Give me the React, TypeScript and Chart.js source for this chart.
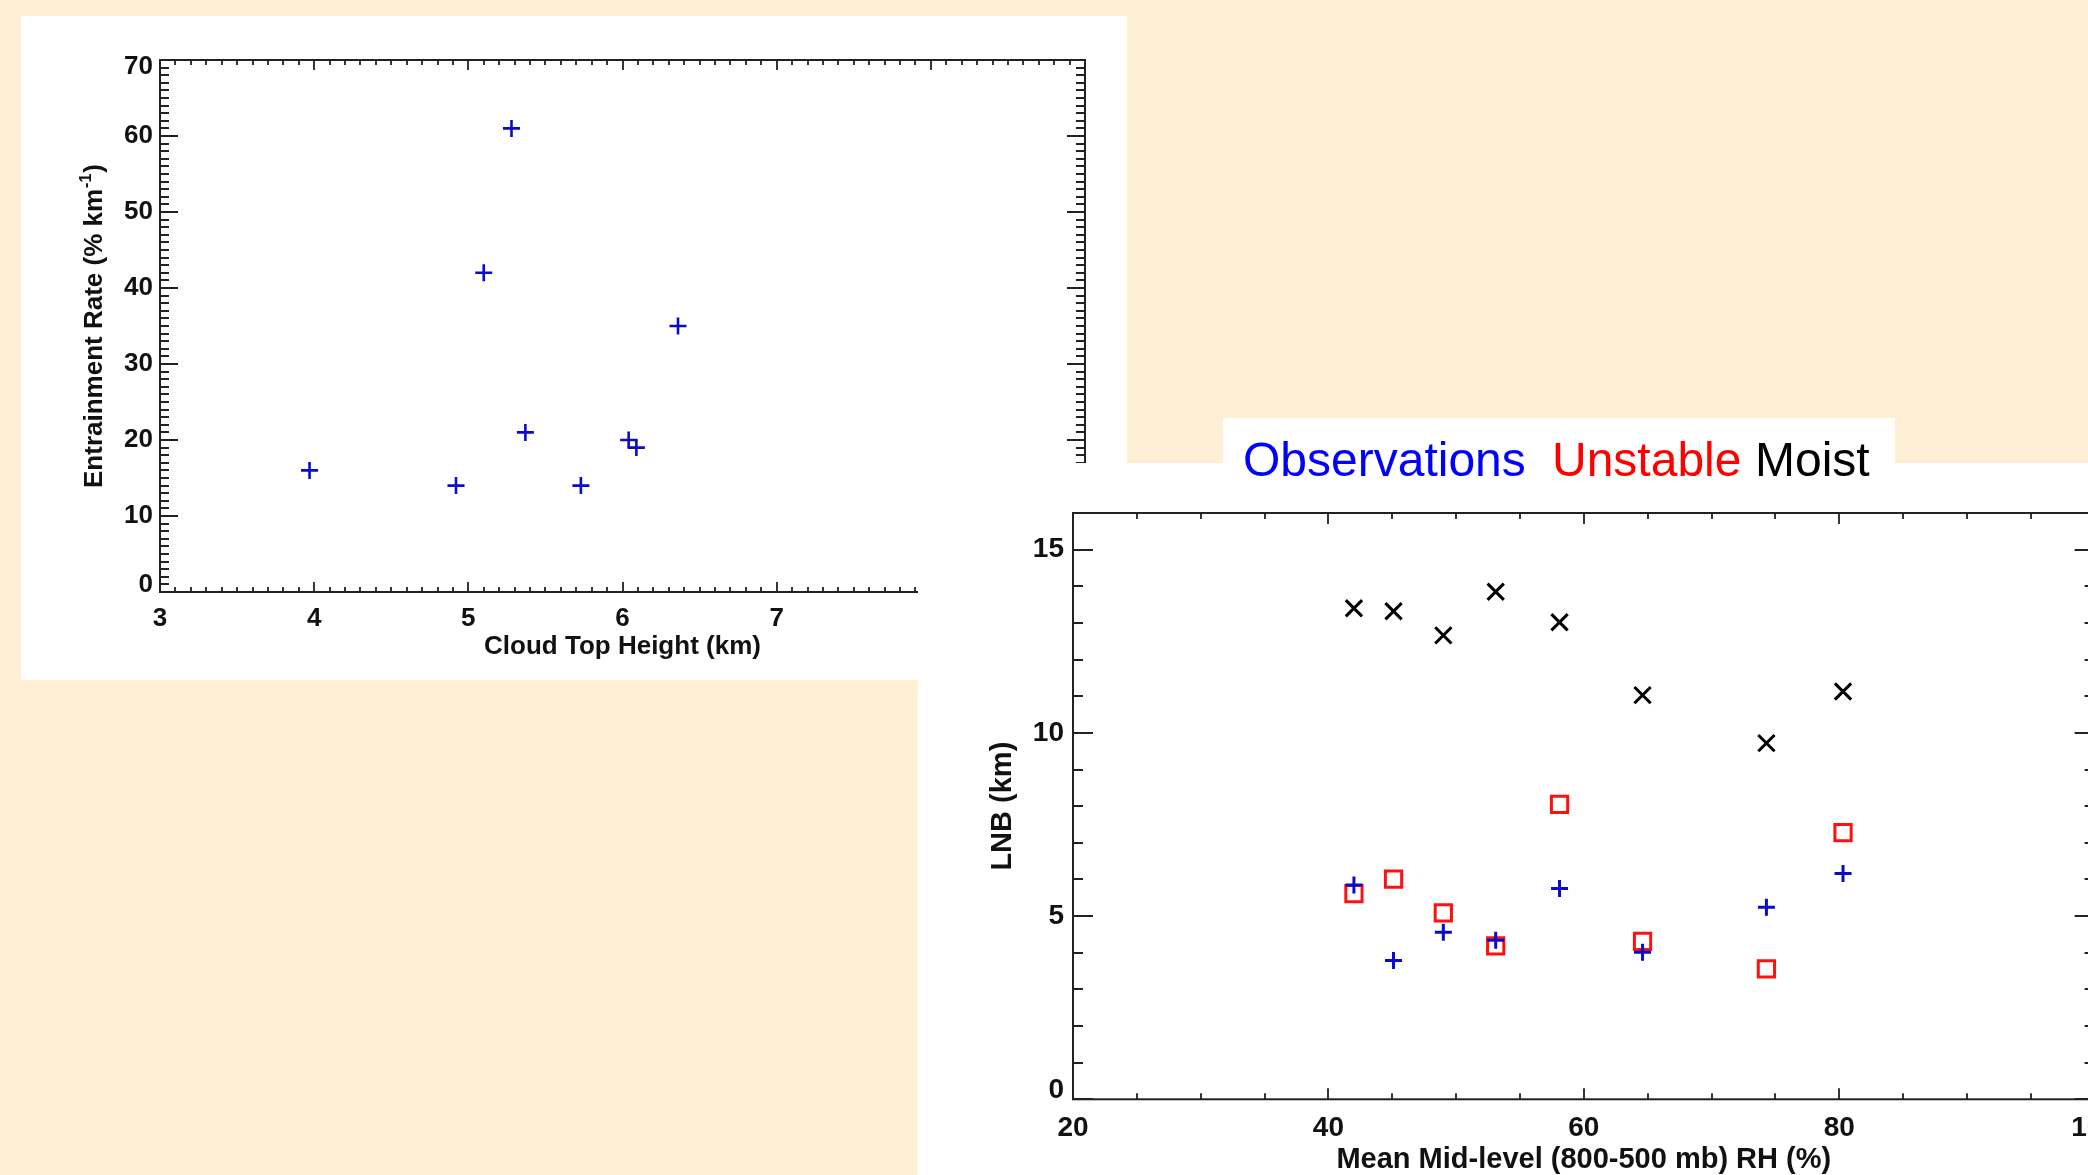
import React, { useEffect, useRef } from "react";
import { Chart, registerables } from "chart.js";

Chart.register(...registerables);

// ---- Entrainment rate vs. cloud top height ----
const cloudTopHeight = [3.97, 4.92, 5.1, 5.28, 5.37, 5.73, 6.04, 6.09, 6.36];
const entrainmentRate = [16, 14, 42, 61, 21, 14, 20, 19, 35];
const cloudTopTicks = [3, 4, 5, 6, 7, 8, 9];
const entrainmentTicks = [0, 10, 20, 30, 40, 50, 60, 70];

// ---- Level of neutral buoyancy vs. mid-level RH ----
const midLevelRH = [42.0, 45.1, 49.0, 53.1, 58.1, 64.6, 74.3, 80.3];
const lnbObservations = [5.85, 3.79, 4.56, 4.34, 5.75, 4.01, 5.24, 6.16];
const lnbUnstable = [5.61, 6.01, 5.09, 4.19, 8.05, 4.31, 3.56, 7.28];
const lnbMoist = [13.4, 13.32, 12.66, 13.85, 13.02, 11.03, 9.72, 11.13];
const rhTicks = [20, 40, 60, 80, 100];
const lnbTicks = [0, 5, 10, 15];

const legendWords = [
  { text: "Observations", color: "#0000FF", left: 1243 },
  { text: "Unstable", color: "#FF0000", left: 1552 },
  { text: "Moist", color: "#000000", left: 1755 },
];

const CREAM = "#FFEFD4";
const BLUE = "#0A0ACD";
const RED = "#FF1010";
const INK = "#222222";
const FAMILY = '"Liberation Sans", Arial, Helvetica, sans-serif';

type FrameCfg = {
  id: string;
  xTicks: number[];
  yTicks: number[];
  xMinor: number;
  yMinor: number;
  xMajorLen: number;
  xMinorLen: number;
  yMajorLen: number;
  yMinorLen: number;
  tickPx: number;
  titlePx: number;
  xLabelDrop: number;
  yLabelGap: number;
  yEndInset: number;
  xTitle: string;
  xTitleDrop: number;
  yTitle: string;
  yTitleSup?: string;
  yTitleTail?: string;
  yTitleX: number;
};

// Boxed axes with inward major/minor ticks on all four sides
function makeFrame(cfg: FrameCfg) {
  return {
    id: cfg.id,
    afterDatasetsDraw(chart: any) {
      const { ctx, chartArea: a } = chart;
      const xs = chart.scales.x;
      const ys = chart.scales.y;
      ctx.save();
      ctx.strokeStyle = INK;
      ctx.lineWidth = 2;
      ctx.strokeRect(a.left, a.top, a.right - a.left, a.bottom - a.top);

      ctx.lineWidth = 1.8;
      ctx.beginPath();
      const nx = Math.round((xs.max - xs.min) / cfg.xMinor);
      for (let i = 0; i <= nx; i++) {
        const v = xs.min + i * cfg.xMinor;
        const major = cfg.xTicks.some((t) => Math.abs(t - v) < 1e-6);
        const len = major ? cfg.xMajorLen : cfg.xMinorLen;
        const px = Math.round(xs.getPixelForValue(v));
        ctx.moveTo(px, a.bottom);
        ctx.lineTo(px, a.bottom - len);
        ctx.moveTo(px, a.top);
        ctx.lineTo(px, a.top + len);
      }
      const ny = Math.round((ys.max - ys.min) / cfg.yMinor);
      for (let i = 0; i <= ny; i++) {
        const v = ys.min + i * cfg.yMinor;
        const major = cfg.yTicks.some((t) => Math.abs(t - v) < 1e-6);
        const len = major ? cfg.yMajorLen : cfg.yMinorLen;
        const py = Math.round(ys.getPixelForValue(v));
        ctx.moveTo(a.left, py);
        ctx.lineTo(a.left + len, py);
        ctx.moveTo(a.right, py);
        ctx.lineTo(a.right - len, py);
      }
      ctx.stroke();

      // tick labels
      ctx.fillStyle = "#111";
      ctx.font = `bold ${cfg.tickPx}px ${FAMILY}`;
      ctx.textAlign = "center";
      ctx.textBaseline = "alphabetic";
      cfg.xTicks.forEach((t) => {
        ctx.fillText(String(t), xs.getPixelForValue(t), a.bottom + cfg.xLabelDrop);
      });
      ctx.textAlign = "right";
      ctx.textBaseline = "middle";
      cfg.yTicks.forEach((t) => {
        let py = ys.getPixelForValue(t);
        // labels at the ends of the axis are nudged inside the box
        if (Math.abs(t - ys.min) < 1e-6) py -= cfg.yEndInset;
        if (Math.abs(t - ys.max) < 1e-6) py += cfg.yEndInset;
        ctx.fillText(String(t), a.left - cfg.yLabelGap, py);
      });

      // axis titles
      ctx.font = `bold ${cfg.titlePx}px ${FAMILY}`;
      ctx.textAlign = "center";
      ctx.textBaseline = "alphabetic";
      ctx.fillText(cfg.xTitle, (a.left + a.right) / 2, a.bottom + cfg.xTitleDrop);

      const mainFont = `bold ${cfg.titlePx}px ${FAMILY}`;
      const supFont = `bold ${Math.round(cfg.titlePx * 0.62)}px ${FAMILY}`;
      ctx.font = mainFont;
      const wMain = ctx.measureText(cfg.yTitle).width;
      const wTail = cfg.yTitleTail ? ctx.measureText(cfg.yTitleTail).width : 0;
      ctx.font = supFont;
      const wSup = cfg.yTitleSup ? ctx.measureText(cfg.yTitleSup).width + 2 : 0;
      const total = wMain + wSup + wTail;
      const capHalf = cfg.titlePx * 0.36;
      ctx.translate(cfg.yTitleX, (a.top + a.bottom) / 2);
      ctx.rotate(-Math.PI / 2);
      ctx.textAlign = "left";
      let cx = -total / 2;
      ctx.font = mainFont;
      ctx.fillText(cfg.yTitle, cx, capHalf);
      cx += wMain;
      if (cfg.yTitleSup) {
        ctx.font = supFont;
        ctx.fillText(cfg.yTitleSup, cx + 1, capHalf - cfg.titlePx * 0.42);
        cx += wSup;
      }
      if (cfg.yTitleTail) {
        ctx.font = mainFont;
        ctx.fillText(cfg.yTitleTail, cx, capHalf);
      }
      ctx.restore();
    },
  };
}

function EntrainmentChart() {
  const ref = useRef<HTMLCanvasElement | null>(null);
  useEffect(() => {
    if (!ref.current) return;
    const frame = makeFrame({
      id: "entrainFrame",
      xTicks: cloudTopTicks,
      yTicks: entrainmentTicks,
      xMinor: 0.1,
      yMinor: 1,
      xMajorLen: 10,
      xMinorLen: 5,
      yMajorLen: 18,
      yMinorLen: 9,
      tickPx: 26,
      titlePx: 26,
      xLabelDrop: 34,
      yLabelGap: 7,
      yEndInset: 7,
      xTitle: "Cloud Top Height (km)",
      xTitleDrop: 62,
      yTitle: "Entrainment Rate (% km",
      yTitleSup: "-1",
      yTitleTail: ")",
      yTitleX: 72,
    });
    const chart = new Chart(ref.current, {
      type: "scatter",
      data: {
        datasets: [
          {
            data: cloudTopHeight.map((x, i) => ({ x, y: entrainmentRate[i] })),
            pointStyle: "cross",
            pointRadius: 8.5,
            pointBorderWidth: 2.6,
            pointBorderColor: BLUE,
            pointBackgroundColor: BLUE,
            showLine: false,
          },
        ],
      },
      options: {
        responsive: false,
        animation: false,
        events: [],
        layout: { padding: { left: 139, top: 44, right: 42, bottom: 88 } },
        scales: {
          x: { type: "linear", min: 3, max: 9, display: false },
          y: { type: "linear", min: 0, max: 70, display: false },
        },
        plugins: { legend: { display: false }, tooltip: { enabled: false } },
      },
      plugins: [frame],
    } as any);
    return () => chart.destroy();
  }, []);
  return <canvas ref={ref} width={1106} height={664} style={{ display: "block", width: 1106, height: 664 }} />;
}

function LnbChart() {
  const ref = useRef<HTMLCanvasElement | null>(null);
  useEffect(() => {
    if (!ref.current) return;
    const frame = makeFrame({
      id: "lnbFrame",
      xTicks: rhTicks,
      yTicks: lnbTicks,
      xMinor: 5,
      yMinor: 1,
      xMajorLen: 11,
      xMinorLen: 6,
      yMajorLen: 20,
      yMinorLen: 10,
      tickPx: 28,
      titlePx: 29,
      xLabelDrop: 37,
      yLabelGap: 9,
      yEndInset: 9,
      xTitle: "Mean Mid-level (800-500 mb) RH (%)",
      xTitleDrop: 69,
      yTitle: "LNB (km)",
      yTitleX: 83,
    });
    const pts = (ys: number[]) => midLevelRH.map((x, i) => ({ x, y: ys[i] }));
    const chart = new Chart(ref.current, {
      type: "scatter",
      data: {
        datasets: [
          {
            label: "Observations",
            data: pts(lnbObservations),
            pointStyle: "cross",
            pointRadius: 8.5,
            pointBorderWidth: 3,
            pointBorderColor: BLUE,
            pointBackgroundColor: BLUE,
            showLine: false,
          },
          {
            label: "Unstable",
            data: pts(lnbUnstable),
            pointStyle: "rect",
            pointRadius: 11.5,
            pointBorderWidth: 3,
            pointBorderColor: RED,
            pointBackgroundColor: "rgba(0,0,0,0)",
            showLine: false,
          },
          {
            label: "Moist",
            data: pts(lnbMoist),
            pointStyle: "crossRot",
            pointRadius: 11.5,
            pointBorderWidth: 3,
            pointBorderColor: "#000",
            pointBackgroundColor: "#000",
            showLine: false,
          },
        ],
      },
      options: {
        responsive: false,
        animation: false,
        events: [],
        layout: { padding: { left: 155, top: 50, right: 63.4, bottom: 75.7 } },
        scales: {
          x: { type: "linear", min: 20, max: 100, display: false },
          y: { type: "linear", min: 0, max: 16, display: false },
        },
        plugins: { legend: { display: false }, tooltip: { enabled: false } },
      },
      plugins: [frame],
    } as any);
    return () => chart.destroy();
  }, []);
  return <canvas ref={ref} width={1240} height={712} style={{ display: "block", width: 1240, height: 712 }} />;
}

export default function App() {
  return (
    <div
      style={{
        position: "fixed",
        left: 0,
        top: 0,
        width: 2088,
        height: 1175,
        background: CREAM,
        overflow: "hidden",
        fontFamily: FAMILY,
      }}
    >
      <div style={{ position: "absolute", left: 21, top: 16, width: 1106, height: 664, background: "#fff" }}>
        <EntrainmentChart />
      </div>
      <div style={{ position: "absolute", left: 1223, top: 418, width: 672, height: 46, background: "#fff" }} />
      <div
        style={{
          position: "absolute",
          left: 918,
          top: 463,
          width: 1170,
          height: 712,
          background: "#fff",
          overflow: "hidden",
        }}
      >
        <LnbChart />
      </div>
      {legendWords.map((w) => (
        <span
          key={w.text}
          style={{
            position: "absolute",
            left: w.left,
            top: 436,
            fontSize: 48,
            lineHeight: "48px",
            color: w.color,
            whiteSpace: "nowrap",
            fontFamily: FAMILY,
          }}
        >
          {w.text}
        </span>
      ))}
    </div>
  );
}
